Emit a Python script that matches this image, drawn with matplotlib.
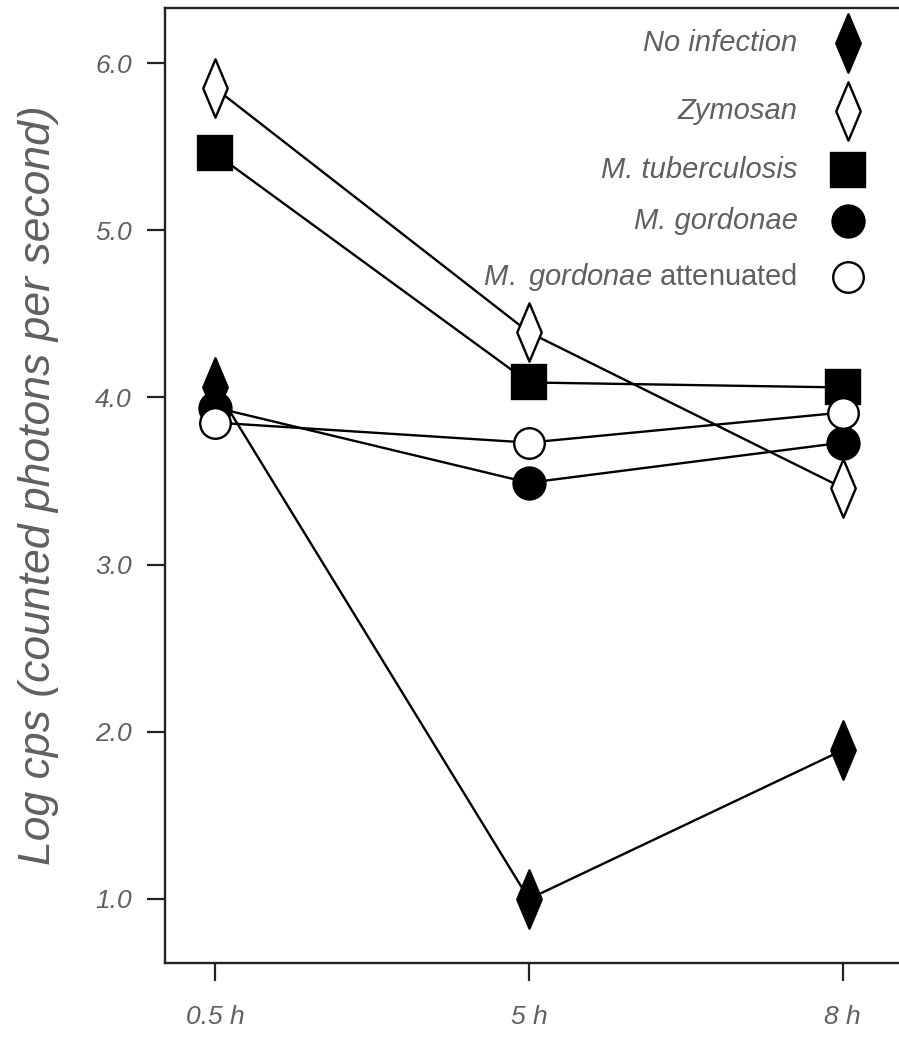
import matplotlib
matplotlib.use('Agg')
import matplotlib.pyplot as plt
from matplotlib.path import Path
import numpy as np

plt.rcParams['mathtext.fontset'] = 'custom'
plt.rcParams['mathtext.rm'] = 'Liberation Sans'
plt.rcParams['mathtext.it'] = 'Liberation Sans:italic'

# data
times = ['0.5 h', '5 h', '8 h']
no_infection = [4.06, 1.00, 1.89]
zymosan = [5.85, 4.39, 3.46]
m_tuberculosis = [5.46, 4.09, 4.06]
m_gordonae = [3.94, 3.49, 3.73]
m_gordonae_att = [3.85, 3.73, 3.91]

labels = ['No infection', 'Zymosan', 'M. tuberculosis',
          'M. gordonae', r'$\it{M.}$ $\it{gordonae}$ attenuated']
label_styles = ['italic', 'italic', 'italic', 'italic', 'normal']

# tall thin diamond
diamond = Path([(0, 1), (0.42, 0), (0, -1), (-0.42, 0), (0, 1)],
               [Path.MOVETO, Path.LINETO, Path.LINETO, Path.LINETO, Path.CLOSEPOLY])

styles = [
    dict(marker=diamond, ms=42, mfc='black', mec='black'),
    dict(marker=diamond, ms=42, mfc='white', mec='black'),
    dict(marker='s', ms=24, mfc='black', mec='black'),
    dict(marker='o', ms=23, mfc='black', mec='black'),
    dict(marker='o', ms=22, mfc='white', mec='black'),
]
series = [no_infection, zymosan, m_tuberculosis, m_gordonae, m_gordonae_att]

W, H = 899, 1039
fig = plt.figure(figsize=(W / 100, H / 100), dpi=100)
ax = fig.add_axes([165 / W, (H - 963) / H, (W - 165) / W, (963 - 8) / H])

x = np.arange(len(times))
for i, (vals, st) in enumerate(zip(series, styles)):
    ax.plot(x, vals, color='black', lw=1.7, zorder=2)
    ax.plot(x, vals, ls='none', mew=1.7, zorder=3 + i, clip_on=False, **st)

ax.set_xlim(-0.16, 2.18)
ax.set_ylim(0.617, 6.33)
ax.set_xticks(x)
ax.set_xticklabels(times)
ax.set_yticks([1, 2, 3, 4, 5, 6])
ax.set_yticklabels(['1.0', '2.0', '3.0', '4.0', '5.0', '6.0'])

gray = '#606060'
for lab in ax.get_xticklabels() + ax.get_yticklabels():
    lab.set_fontstyle('italic')
    lab.set_color(gray)
    lab.set_fontsize(19)
    lab.set_fontfamily('Liberation Sans')
ax.tick_params(axis='both', direction='out', length=13, width=1.6, color='#222222')
ax.tick_params(axis='y', pad=11)
ax.tick_params(axis='x', pad=17)
for s in ['left', 'bottom', 'top']:
    ax.spines[s].set_linewidth(1.7)
    ax.spines[s].set_color('#222222')
ax.spines['right'].set_visible(False)

ax.set_ylabel('Log cps (counted photons per second)', fontsize=32, color=gray,
              fontstyle='italic', family='Liberation Sans', labelpad=26)

# legend: text right-aligned, marker to the right
leg_rows = [0.963, 0.892, 0.830, 0.777, 0.718]
for lab, fs, st, yy in zip(labels, label_styles, styles, leg_rows):
    ax.text(0.862, yy, lab, transform=ax.transAxes, ha='right', va='center',
            fontsize=21, color=gray, fontstyle=fs, family='Liberation Sans')
    ax.plot([0.930], [yy], transform=ax.transAxes, ls='none', mew=1.7,
            clip_on=False, zorder=10, **st)

fig.savefig('out.png', dpi=100)
